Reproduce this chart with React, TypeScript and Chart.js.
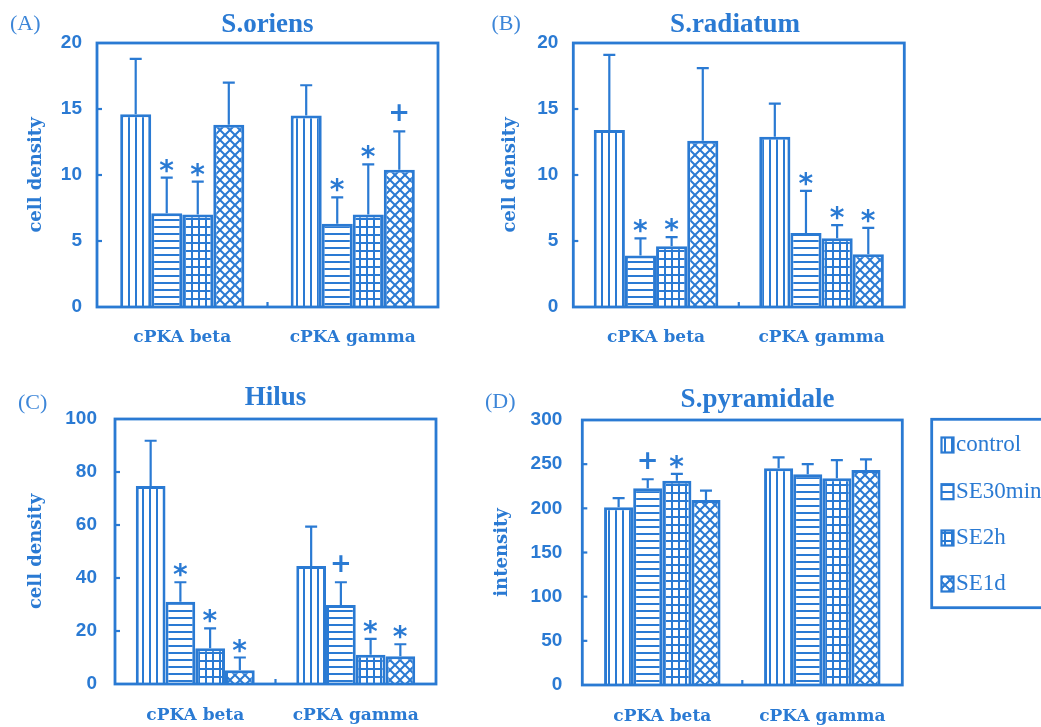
import React, { useEffect, useRef } from 'react';
import { Chart, registerables } from 'chart.js';

Chart.register(...registerables);

const BLUE = '#2a7ad3';

const categories = ['cPKA beta', 'cPKA gamma'];
const seriesNames = ['control', 'SE30min', 'SE2h', 'SE1d'];

// (A) S.oriens — per series: [cPKA beta, cPKA gamma]
const oriensMean = [[14.6, 14.5], [7.1, 6.3], [7.0, 7.0], [13.8, 10.4]];
const oriensErr = [[4.2, 2.3], [2.7, 2.0], [2.5, 3.8], [3.2, 2.9]];
const oriensSig = [['', ''], ['*', '*'], ['*', '*'], ['', '+']];
const oriensTicks = [0, 5, 10, 15, 20];

// (B) S.radiatum
const radiatumMean = [[13.4, 12.9], [3.9, 5.6], [4.6, 5.2], [12.6, 4.0]];
const radiatumErr = [[5.7, 2.5], [1.3, 3.2], [0.7, 1.0], [5.5, 2.0]];
const radiatumSig = [['', ''], ['*', '*'], ['*', '*'], ['', '*']];
const radiatumTicks = [0, 5, 10, 15, 20];

// (C) Hilus
const hilusMean = [[74.7, 44.5], [31.0, 29.8], [13.5, 11.0], [5.2, 10.5]];
const hilusErr = [[17.1, 14.9], [7.4, 8.6], [7.5, 6.0], [4.8, 4.5]];
const hilusSig = [['', ''], ['*', '+'], ['*', '*'], ['*', '*']];
const hilusTicks = [0, 20, 40, 60, 80, 100];

// (D) S.pyramidale
const pyramidaleMean = [[201.2, 245.3], [222.7, 238.5], [231.3, 234.0], [209.4, 243.4]];
const pyramidaleErr = [[10.3, 12.5], [10.2, 11.5], [7.6, 20.5], [10.6, 12.0]];
const pyramidaleSig = [['', ''], ['+', ''], ['*', ''], ['', '']];
const pyramidaleTicks = [0, 50, 100, 150, 200, 250, 300];

const patternKinds = ['vertical', 'horizontal', 'grid', 'cross'];

function makePattern(kind: string): CanvasPattern {
  const c = document.createElement('canvas');
  let w = 7;
  let h = 7;
  if (kind === 'cross') { w = 10; h = 10; }
  if (kind === 'grid') { w = 7; h = 8; }
  c.width = w;
  c.height = h;
  const g = c.getContext('2d')!;
  g.fillStyle = '#ffffff';
  g.fillRect(0, 0, w, h);
  g.strokeStyle = BLUE;
  g.lineWidth = 2;
  if (kind === 'vertical' || kind === 'grid') {
    g.beginPath(); g.moveTo(3, 0); g.lineTo(3, h); g.stroke();
  }
  if (kind === 'horizontal' || kind === 'grid') {
    g.beginPath(); g.moveTo(0, 3); g.lineTo(w, 3); g.stroke();
  }
  if (kind === 'cross') {
    g.lineWidth = 2;
    for (const dx of [-w, 0, w]) {
      g.beginPath();
      g.moveTo(dx, 0); g.lineTo(dx + w, h);
      g.moveTo(dx + w, 0); g.lineTo(dx, h);
      g.stroke();
    }
  }
  return g.createPattern(c, 'repeat')!;
}

type PanelDef = {
  key: string;
  label: string;
  title: string;
  yTitle: string;
  means: number[][];
  errs: number[][];
  sig: string[][];
  ticks: number[];
  x: number; y: number; w: number; h: number;
  padTop: number; padRight: number;
  yWidth: number; xHeight: number;
  catPct: number;
  yTickPad: number; xTickPad: number;
  yTitlePad: number;
  titleX: number; titleY: number;
  labelX: number; labelY: number;
  legend?: boolean;
};

const panels: PanelDef[] = [
  {
    key: 'A', label: '(A)', title: 'S.oriens', yTitle: 'cell density',
    means: oriensMean, errs: oriensErr, sig: oriensSig, ticks: oriensTicks,
    x: 0, y: 0, w: 470, h: 360, padTop: 43, padRight: 32, yWidth: 97, xHeight: 53,
    catPct: 0.728, yTickPad: 15, xTickPad: 20, yTitlePad: 26,
    titleX: 267.5, titleY: 32, labelX: 10, labelY: 30,
  },
  {
    key: 'B', label: '(B)', title: 'S.radiatum', yTitle: 'cell density',
    means: radiatumMean, errs: radiatumErr, sig: radiatumSig, ticks: radiatumTicks,
    x: 480, y: 0, w: 470, h: 360, padTop: 43, padRight: 45.7, yWidth: 93.3, xHeight: 53,
    catPct: 0.753, yTickPad: 15, xTickPad: 20, yTitlePad: 20,
    titleX: 255, titleY: 32, labelX: 11.5, labelY: 30,
  },
  {
    key: 'C', label: '(C)', title: 'Hilus', yTitle: 'cell density',
    means: hilusMean, errs: hilusErr, sig: hilusSig, ticks: hilusTicks,
    x: 0, y: 370, w: 470, h: 357, padTop: 49, padRight: 34, yWidth: 115, xHeight: 43,
    catPct: 0.741, yTickPad: 18, xTickPad: 21, yTitlePad: 26,
    titleX: 275.5, titleY: 35, labelX: 18, labelY: 39,
  },
  {
    key: 'D', label: '(D)', title: 'S.pyramidale', yTitle: 'intensity',
    means: pyramidaleMean, errs: pyramidaleErr, sig: pyramidaleSig, ticks: pyramidaleTicks,
    x: 480, y: 370, w: 561, h: 357, padTop: 50, padRight: 138.7, yWidth: 102.3, xHeight: 42,
    catPct: 0.728, yTickPad: 20, xTickPad: 21, yTitlePad: 12,
    titleX: 277.5, titleY: 36.5, labelX: 5, labelY: 38, legend: true,
  },
];

function drawCentered(ctx: CanvasRenderingContext2D, s: string, cx: number, cy: number) {
  ctx.textAlign = 'left';
  ctx.textBaseline = 'alphabetic';
  const m = ctx.measureText(s);
  const x = cx - (m.actualBoundingBoxRight - m.actualBoundingBoxLeft) / 2;
  const y = cy - (m.actualBoundingBoxDescent - m.actualBoundingBoxAscent) / 2;
  ctx.fillText(s, x, y);
}

function decorPlugin(p: PanelDef, patterns: CanvasPattern[]) {
  return {
    id: 'decor' + p.key,
    afterDraw(chart: any) {
      const ctx: CanvasRenderingContext2D = chart.ctx;
      const { left, right, top, bottom } = chart.chartArea;
      const yScale = chart.scales.y;
      ctx.save();
      ctx.strokeStyle = BLUE;
      ctx.fillStyle = BLUE;
      ctx.lineCap = 'butt';

      // error bars and significance marks
      p.means.forEach((series, i) => {
        const meta = chart.getDatasetMeta(i);
        series.forEach((v, j) => {
          const bar = meta.data[j];
          const x = bar.x;
          const y0 = yScale.getPixelForValue(v);
          const y1 = yScale.getPixelForValue(v + p.errs[i][j]);
          ctx.lineWidth = 2.2;
          ctx.beginPath();
          ctx.moveTo(x, y0);
          ctx.lineTo(x, y1);
          ctx.moveTo(x - 6, y1);
          ctx.lineTo(x + 6, y1);
          ctx.stroke();
          const s = p.sig[i][j];
          if (s === '*') {
            ctx.font = 'bold 28px "DejaVu Sans"';
            drawCentered(ctx, s, x, y1 - 12);
          } else if (s === '+') {
            ctx.font = 'bold 26px "DejaVu Sans"';
            drawCentered(ctx, s, x, y1 - 19);
          }
        });
      });

      // frame
      ctx.lineWidth = 2.8;
      ctx.strokeRect(left, top, right - left, bottom - top);

      // inward y ticks
      ctx.lineWidth = 2.2;
      yScale.ticks.forEach((t: any) => {
        if (t.value === p.ticks[0] || t.value === p.ticks[p.ticks.length - 1]) return;
        const py = yScale.getPixelForValue(t.value);
        ctx.beginPath();
        ctx.moveTo(left, py);
        ctx.lineTo(left + 5, py);
        ctx.stroke();
      });
      // category divider tick
      const mid = (left + right) / 2;
      ctx.beginPath();
      ctx.moveTo(mid, bottom);
      ctx.lineTo(mid, bottom - 5);
      ctx.stroke();

      // title
      ctx.font = 'bold 27px "Liberation Serif"';
      ctx.textAlign = 'center';
      ctx.textBaseline = 'alphabetic';
      ctx.fillText(p.title, p.titleX, p.titleY);

      // panel label
      ctx.fillStyle = '#3d86d8';
      ctx.font = '22px "Liberation Serif"';
      ctx.textAlign = 'left';
      ctx.fillText(p.label, p.labelX, p.labelY);

      // legend
      if (p.legend) {
        ctx.strokeStyle = BLUE;
        ctx.lineWidth = 2.8;
        ctx.strokeRect(451.7, 49.3, 200, 188.4);
        const ys = [75, 121.7, 168, 214];
        seriesNames.forEach((name, i) => {
          const sx = 461.5;
          const sy = ys[i] - 7.5;
          ctx.fillStyle = patterns[i];
          ctx.fillRect(sx, sy, 12, 15);
          ctx.lineWidth = 2.2;
          ctx.strokeRect(sx, sy, 12, 15);
          ctx.fillStyle = BLUE;
          ctx.font = '23px "Liberation Serif"';
          ctx.textAlign = 'left';
          ctx.textBaseline = 'middle';
          ctx.fillText(name, 476, ys[i]);
        });
      }
      ctx.restore();
    },
  };
}

function buildChart(canvas: HTMLCanvasElement, p: PanelDef) {
  const patterns = patternKinds.map(makePattern);
  const datasets = p.means.map((m, i) => ({
    label: seriesNames[i],
    data: m,
    backgroundColor: patterns[i],
    borderColor: BLUE,
    borderWidth: 3,
    barPercentage: 1,
    categoryPercentage: p.catPct,
  }));
  const tMin = p.ticks[0];
  const tMax = p.ticks[p.ticks.length - 1];
  const step = p.ticks[1] - p.ticks[0];
  return new Chart(canvas, {
    type: 'bar',
    data: { labels: categories, datasets },
    options: {
      responsive: false,
      animation: false,
      layout: { padding: { top: p.padTop, left: 0, right: p.padRight, bottom: 0 } },
      plugins: {
        legend: { display: false },
        tooltip: { enabled: false },
        title: { display: false },
      },
      scales: {
        x: {
          grid: { display: false, drawTicks: false },
          border: { display: false },
          ticks: {
            color: BLUE,
            font: { family: '"DejaVu Serif"', weight: 'bold', size: 17 },
            padding: p.xTickPad,
            maxRotation: 0,
          },
          afterFit: (s: any) => { s.height = p.xHeight; },
        },
        y: {
          min: tMin,
          max: tMax,
          grid: { display: false, drawTicks: false },
          border: { display: false },
          ticks: {
            stepSize: step,
            color: BLUE,
            font: { family: '"Liberation Sans"', weight: 'bold', size: 19 },
            padding: p.yTickPad,
          },
          title: {
            display: true,
            text: p.yTitle,
            color: BLUE,
            font: { family: '"DejaVu Serif"', weight: 'bold', size: 18 },
            padding: { top: p.yTitlePad, bottom: 0 },
          },
          afterFit: (s: any) => { s.width = p.yWidth; },
        },
      },
    } as any,
    plugins: [decorPlugin(p, patterns)],
  });
}

function Panel({ p }: { p: PanelDef }) {
  const ref = useRef<HTMLCanvasElement>(null);
  useEffect(() => {
    const chart = buildChart(ref.current!, p);
    return () => chart.destroy();
  }, []);
  return (
    <canvas
      ref={ref}
      width={p.w}
      height={p.h}
      style={{ position: 'absolute', left: p.x, top: p.y, width: p.w, height: p.h }}
    />
  );
}

export default function App() {
  return (
    <div
      style={{
        position: 'absolute', left: 0, top: 0, width: 1041, height: 727,
        background: '#ffffff', overflow: 'hidden',
      }}
    >
      {panels.map((p) => <Panel key={p.key} p={p} />)}
    </div>
  );
}
